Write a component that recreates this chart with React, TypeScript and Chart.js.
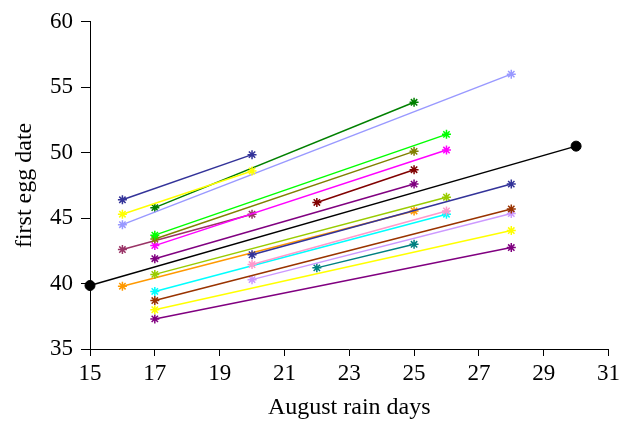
import React, { useEffect, useRef } from "react";
import { Chart, registerables } from "chart.js";

Chart.register(...registerables);

// Each series is a two-point segment: (startDay, startDate) -> (endDay, endDate)
const startDays = [16, 16, 16, 17, 17, 17, 17, 22, 17, 16, 20, 17, 16, 20, 17, 17, 20, 22, 17, 17, 15];
const startDates = [46.4, 45.3, 44.5, 45.8, 43.7, 43.4, 42.9, 46.2, 41.9, 42.6, 42.2, 40.7, 39.8, 41.45, 39.4, 38.7, 40.3, 41.2, 38.0, 37.3, 39.85];
const endDays = [20, 20, 28, 25, 26, 25, 26, 25, 25, 20, 28, 26, 25, 26, 26, 28, 28, 25, 28, 28, 30];
const endDates = [49.85, 48.6, 56.0, 53.85, 51.4, 50.1, 50.2, 48.7, 47.6, 45.3, 47.6, 46.6, 45.55, 45.55, 45.3, 45.7, 45.35, 43.0, 44.05, 42.75, 50.5];

const palette = [
  "#333399", "#ffff00", "#9999ff", "#008000", "#00ff00", "#808000", "#ff00ff",
  "#800000", "#800080", "#993366", "#333399", "#99cc00", "#ff9900", "#ff99cc",
  "#00ffff", "#993300", "#cc99ff", "#008080", "#ffff00", "#800080", "#000000",
];

const xTicksMin = 15;
const xTicksMax = 31;
const yTicksMin = 35;
const yTicksMax = 60;

const FONT = "'Liberation Serif', 'Times New Roman', serif";

export default function App() {
  const ref = useRef<HTMLCanvasElement | null>(null);

  useEffect(() => {
    if (!ref.current) return;
    const datasets = startDays.map((sd, i) => {
      const isFit = i === startDays.length - 1;
      const c = palette[i];
      return {
        label: "s" + i,
        data: [
          { x: sd, y: startDates[i] },
          { x: endDays[i], y: endDates[i] },
        ],
        showLine: true,
        borderColor: c,
        backgroundColor: c,
        borderWidth: 1.5,
        pointStyle: isFit ? "circle" : "star",
        pointRadius: isFit ? 5 : 4.5,
        pointBorderWidth: isFit ? 1 : 1.5,
        pointBorderColor: c,
        pointBackgroundColor: c,
        clip: false as any,
      };
    });

    const chart = new Chart(ref.current, {
      type: "scatter",
      data: { datasets },
      options: {
        animation: false,
        responsive: false,
        layout: { padding: { top: 21, right: 14, left: 0, bottom: 0 } },
        plugins: { legend: { display: false }, tooltip: { enabled: false } },
        scales: {
          x: {
            type: "linear",
            min: xTicksMin,
            max: xTicksMax,
            ticks: {
              stepSize: 2,
              color: "#000",
              padding: 4,
              font: { family: FONT, size: 23 },
              maxRotation: 0,
            },
            grid: {
              drawOnChartArea: false,
              drawTicks: true,
              tickLength: 7,
              tickColor: "#000",
              tickWidth: 1,
            },
            border: { display: true, color: "#000", width: 1 },
            title: {
              display: true,
              text: "August rain days",
              color: "#000",
              font: { family: FONT, size: 24 },
              padding: { top: 0, bottom: -1 },
            },
            afterFit: (scale: any) => {
              scale.height = 72;
            },
          },
          y: {
            type: "linear",
            min: yTicksMin,
            max: yTicksMax,
            ticks: {
              stepSize: 5,
              color: "#000",
              padding: 8,
              font: { family: FONT, size: 23 },
            },
            grid: {
              drawOnChartArea: false,
              drawTicks: true,
              tickLength: 9,
              tickColor: "#000",
              tickWidth: 1,
            },
            border: { display: true, color: "#000", width: 1 },
            title: {
              display: true,
              text: "first egg date",
              color: "#000",
              font: { family: FONT, size: 24 },
              padding: { top: 10, bottom: 0 },
            },
            afterFit: (scale: any) => {
              scale.width = 90;
            },
          },
        },
      },
    });
    return () => chart.destroy();
  }, []);

  return (
    <div style={{ position: "fixed", left: 0, top: 0, width: 624, height: 421, background: "#fff" }}>
      <canvas ref={ref} width={624} height={421} />
    </div>
  );
}
